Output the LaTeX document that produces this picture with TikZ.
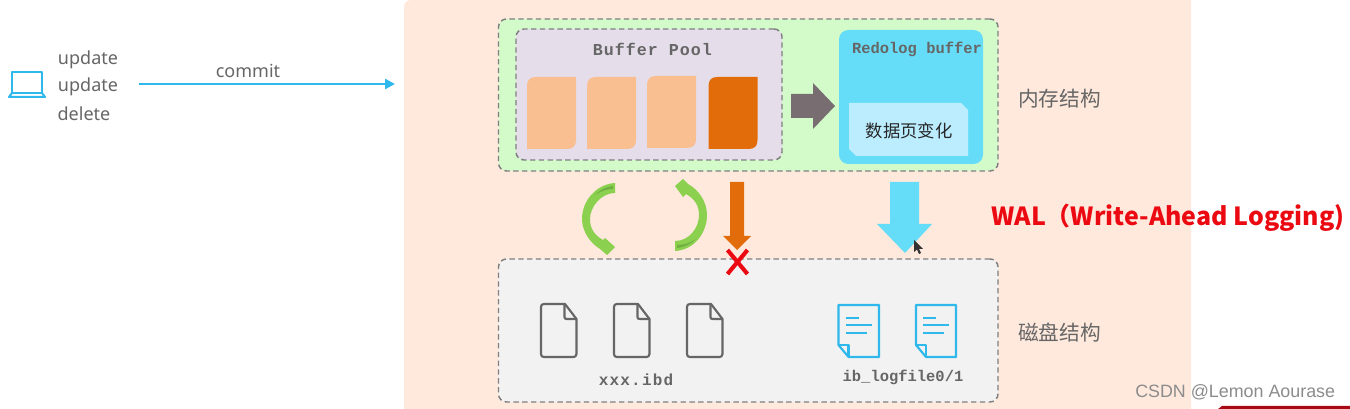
\documentclass[tikz,border=0pt]{standalone}
\usepackage{fontspec}
\setmainfont{Noto Sans}
\newfontfamily\cjkfont{Noto Sans CJK SC}
\newfontfamily\monofont{Liberation Mono}[BoldFont={Liberation Mono Bold}]
\newfontfamily\monopool{Liberation Mono Bold}[LetterSpace=6]
\newfontfamily\monoibd{Liberation Mono Bold}[LetterSpace=7.5]
\newfontfamily\arialfont{Liberation Sans}
\usetikzlibrary{arrows.meta}
\definecolor{panelc}{HTML}{FFE9DD}
\definecolor{memc}{HTML}{D3FBCA}
\definecolor{poolc}{HTML}{E5DEEA}
\definecolor{pagec}{HTML}{FABF90}
\definecolor{pagedark}{HTML}{E36C0A}
\definecolor{redoc}{HTML}{66DDF8}
\definecolor{innerc}{HTML}{BCEDFF}
\definecolor{diskc}{HTML}{F2F2F2}
\definecolor{dashc}{HTML}{7F7F7F}
\definecolor{bluec}{HTML}{2FB8EC}
\definecolor{arrowg}{HTML}{786E72}
\definecolor{greenc}{HTML}{8CD050}
\definecolor{greend}{HTML}{6FB040}
\definecolor{textg}{HTML}{666666}
\definecolor{redc}{HTML}{EC0A12}
\definecolor{barred}{HTML}{A80A14}
\newcommand{\pageshape}[3]{%
  \fill[#3] (#1+9,#2) -- (#1+49,#2) -- (#1+49,#2+63)
    .. controls (#1+49,#2+69) and (#1+46,#2+72) .. (#1+40,#2+72)
    -- (#1,#2+72) -- (#1,#2+9)
    .. controls (#1,#2+3) and (#1+3,#2) .. (#1+9,#2) -- cycle;}
\newcommand{\grayfile}[2]{%
  \draw[grayfilestyle] (#1+3,#2) -- (#1+24,#2) -- (#1+35.5,#2+15) -- (#1+35.5,#2+50)
    .. controls (#1+35.5,#2+52) and (#1+34,#2+53) .. (#1+32.5,#2+53)
    -- (#1+3,#2+53) .. controls (#1+1,#2+53) and (#1,#2+52) .. (#1,#2+50)
    -- (#1,#2+3) .. controls (#1,#2+1) and (#1+1,#2) .. (#1+3,#2) -- cycle;
  \draw[grayfilestyle] (#1+23.5,#2) -- (#1+23.5,#2+13) .. controls (#1+23.5,#2+14.5) and (#1+24,#2+15) .. (#1+26,#2+15) -- (#1+35.5,#2+15);}
\newcommand{\bluefile}[3]{%
  \draw[bluefilestyle] (#1,#2) -- (#1+#3,#2) -- (#1+#3,#2+52) -- (#1+10,#2+52) -- (#1,#2+40) -- cycle;
  \draw[bluefilestyle] (#1,#2+40) -- (#1+10,#2+40) -- (#1+10,#2+52);
  \draw[bluefilestyle] (#1+7,#2+13) -- (#1+20,#2+13);
  \draw[bluefilestyle] (#1+7,#2+20) -- (#1+33,#2+20);
  \draw[bluefilestyle] (#1+7,#2+28) -- (#1+28,#2+28);}
\tikzset{
  x=0.75pt,y=-0.75pt,
  sz/.style 2 args={minimum width=#1*0.75pt,minimum height=#2*0.75pt,inner sep=0pt,outer sep=0pt,anchor=north west},
  dashbox/.style={draw=dashc,line width=1.1pt,dash pattern=on 4pt off 2.6pt,rounded corners=6pt},
  grayfilestyle/.style={draw=textg,line width=1.6pt,line join=round},
  bluefilestyle/.style={draw=bluec,line width=1.6pt,line join=round},
  mainlabel/.style={text=textg,font=\fontsize{13.5pt}{16pt}\selectfont,inner sep=0pt},
  cjklabel/.style={text=textg,font=\cjkfont\fontsize{15.5pt}{18pt}\selectfont,inner sep=0pt},
  monolabel/.style={text=textg,font=\monofont\bfseries\fontsize{11.6pt}{13pt}\selectfont,inner sep=0pt},
}
\begin{document}
\begin{tikzpicture}
\useasboundingbox (0,0) rectangle (1350,409);
\fill[white] (0,0) rectangle (1350,409);
% background panel
\fill[panelc] (404,409) -- (404,8) .. controls (404,3) and (406,0) .. (411,0) -- (1191,0) -- (1191,409) -- cycle;
\fill[barred] (1218,409) -- (1222,406) -- (1350,406) -- (1350,409) -- cycle;
% boxes
\node[sz={499.5}{152},dashbox,fill=memc] (mem) at (498.5,19) {};
\node[sz={266}{131},dashbox,fill=poolc] (pool) at (516,29) {};
\node[sz={144}{134},fill=redoc,rounded corners=7pt] (redo) at (839,30) {};
\node[sz={499.5}{143},dashbox,fill=diskc] (disk) at (498.5,259) {};
% pages
\pageshape{527}{77}{pagec}
\pageshape{587}{77}{pagec}
\pageshape{647}{76}{pagec}
\pageshape{708.5}{77}{pagedark}
\node[font=\monopool\fontsize{12.5pt}{14pt}\selectfont,text=textg,inner sep=0pt] (pooltitle) at (652.5,49) {Buffer Pool};
% grey block arrow
\fill[arrowg] (791,94) -- (813,94) -- (813,83) -- (835,106) -- (813,129) -- (813,118) -- (791,118) -- cycle;
% redo content
\node[font=\monofont\bfseries\fontsize{11.6pt}{13pt}\selectfont,text=textg,inner sep=0pt] (redotitle) at (917,49) {Redolog buffer};
\fill[innerc] (849,103) -- (961,103) -- (968,110) -- (968,156) -- (856,156) -- (849,149) -- cycle;
\node[font=\cjkfont\fontsize{13pt}{15pt}\selectfont,text=black!85,inner sep=0pt] (delta) at (909,131) {数据页变化};
% labels
\node[cjklabel,anchor=west] (memlabel) at (1018,99) {内存结构};
\node[cjklabel,anchor=west] (disklabel) at (1018,333) {磁盘结构};
% left side
\node[mainlabel] (u1) at (88,60) {update};
\node[mainlabel] (u2) at (88,87) {update};
\node[mainlabel] (d1) at (84,113.5) {delete};
\node[mainlabel] (commit) at (248,71) {commit};
\draw[bluec,line width=1.5pt,line join=round] (12,93) -- (12,72) -- (42,72) -- (42,93) -- cycle;
\draw[bluec,line width=1.5pt,line join=round] (12,93) -- (9,97) -- (45,97) -- (42,93);
\coordinate (cstart) at (139,84);
\coordinate (cend) at (395,84);
\draw[bluec,line width=1.9pt,-{Triangle[length=7.5pt,width=7.5pt]}] (cstart) -- (cend);
% green arrows
\fill[greenc] (615,183) .. controls (597,184) and (582,200) .. (582,219)
  .. controls (582,231) and (590,243) .. (600,249) -- (607,255) -- (615,247) -- (605,238) -- (603,240)
  .. controls (594,235) and (590,228) .. (590,219)
  .. controls (590,207) and (601,193) .. (615,193) -- cycle;
\fill[greend] (613,186) .. controls (605,187) and (600,190) .. (595,195) .. controls (601,191) and (607,189) .. (613,189) -- cycle;
\fill[greenc] (675,251) .. controls (695,250) and (707,232) .. (707,215)
  .. controls (707,202) and (699,190) .. (688,184) -- (683,179) -- (675,186) -- (683,197) -- (686,194)
  .. controls (695,199) and (699,206) .. (699,215)
  .. controls (699,228) and (689,241) .. (675,241) -- cycle;
\fill[greend] (677,248) .. controls (685,247) and (691,244) .. (696,239) .. controls (690,243) and (684,245) .. (677,245) -- cycle;
% orange arrow
\fill[pagedark] (730,182) -- (744,182) -- (744,236) -- (751,236) -- (737,250) -- (723,236) -- (730,236) -- cycle;
% cross
\draw[redc,line width=3.1pt] (727.5,250) -- (747.5,274);
\draw[redc,line width=3.1pt] (747.5,250) -- (727.5,274);
% cyan arrow
\fill[redoc] (890,182) -- (919,182) -- (919,224) -- (932,224) -- (905,253) -- (877,224) -- (890,224) -- cycle;
% cursor
\fill[black!80] (914,240) -- (914,252) -- (917,249.5) -- (919,254) -- (921,253) -- (919,249) -- (923,249) -- cycle;
% WAL
\node[text=redc,font=\cjkfont\bfseries\fontsize{18.7pt}{22pt}\selectfont,inner sep=0pt,anchor=west] (wal) at (991,217.5) {WAL（Write-Ahead Logging)};
% files
\grayfile{541}{304}
\grayfile{614}{304}
\grayfile{687}{304}
\bluefile{838.5}{305}{40.5}
\bluefile{916}{305}{40}
\node[font=\monoibd\fontsize{12pt}{14pt}\selectfont,text=textg,inner sep=0pt] (ibd) at (636,380) {xxx.ibd};
\node[monolabel] (logf) at (903,377) {ib\_logfile0/1};
% watermark
\node[text=black!45,font=\arialfont\fontsize{13.4pt}{16pt}\selectfont,inner sep=0pt,anchor=west] (mark) at (1135,392.5) {CSDN @Lemon Aourase};
\end{tikzpicture}
\end{document}
